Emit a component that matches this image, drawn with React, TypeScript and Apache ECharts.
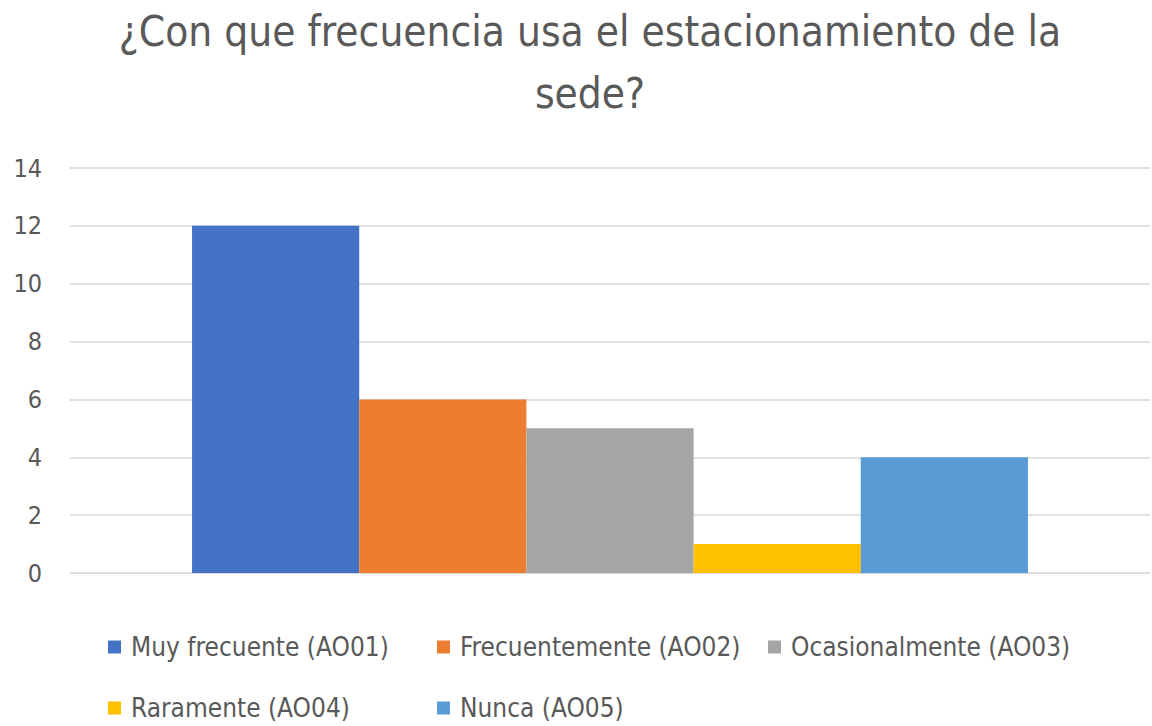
import React, { useEffect, useRef } from "react";
import * as echarts from "echarts";

const categories = [""];
const seriesNames = [
  "Muy frecuente (AO01)",
  "Frecuentemente (AO02)",
  "Ocasionalmente (AO03)",
  "Raramente (AO04)",
  "Nunca (AO05)",
];
const seriesValues = [12, 6, 5, 1, 4];
const seriesColors = ["#4472C4", "#ED7D31", "#A5A5A5", "#FFC000", "#5B9BD5"];
const titleLines = ["¿Con que frecuencia usa el estacionamiento de la", "sede?"];

const legendPos = [
  { left: 108, top: 634 },
  { left: 437, top: 634 },
  { left: 768, top: 634 },
  { left: 108, top: 695 },
  { left: 437, top: 695 },
];

const FONT = "'Liberation Sans Narrow', 'DejaVu Sans Condensed', sans-serif";

export default function App() {
  const ref = useRef<HTMLDivElement>(null);
  useEffect(() => {
    if (!ref.current) return;
    const chart = echarts.init(ref.current, undefined, { renderer: "svg" });
    chart.setOption({
      animation: false,
      textStyle: { fontFamily: FONT },
      graphic: titleLines.map((t, i) => ({
        type: "text",
        x: 590,
        y: 31 + i * 62,
        style: {
          text: t,
          fontFamily: FONT,
          fontSize: 42,
          fill: "#595959",
          align: "center",
          verticalAlign: "middle",
        },
      })),
      legend: seriesNames.map((n, i) => ({
        data: [n],
        left: legendPos[i].left,
        top: legendPos[i].top,
        padding: 0,
        itemWidth: 13,
        itemHeight: 13,
        itemGap: 10,
        icon: "rect",
        textStyle: { fontFamily: FONT, fontSize: 26, color: "#595959", padding: [0, 0, 0, 5] },
      })),
      grid: { left: 70, right: 2, top: 168, bottom: 153, containLabel: false },
      xAxis: {
        type: "category",
        data: categories,
        axisLine: { lineStyle: { color: "#d9d9d9" } },
        axisTick: { show: false },
        axisLabel: { show: false },
      },
      yAxis: {
        type: "value",
        min: 0,
        max: 14,
        interval: 2,
        axisLine: { show: false },
        axisTick: { show: false },
        axisLabel: { fontFamily: FONT, fontSize: 25, color: "#595959", margin: 28 },
        splitLine: { lineStyle: { color: "#d9d9d9", width: 1.5 } },
      },
      series: seriesNames.map((n, i) => ({
        name: n,
        type: "bar",
        data: [seriesValues[i]],
        barGap: "0%",
        barCategoryGap: "22.6%",
        itemStyle: { color: seriesColors[i] },
      })),
    });
    return () => chart.dispose();
  }, []);
  return <div ref={ref} style={{ width: 1152, height: 726, position: "absolute", left: 0, top: 0 }} />;
}
